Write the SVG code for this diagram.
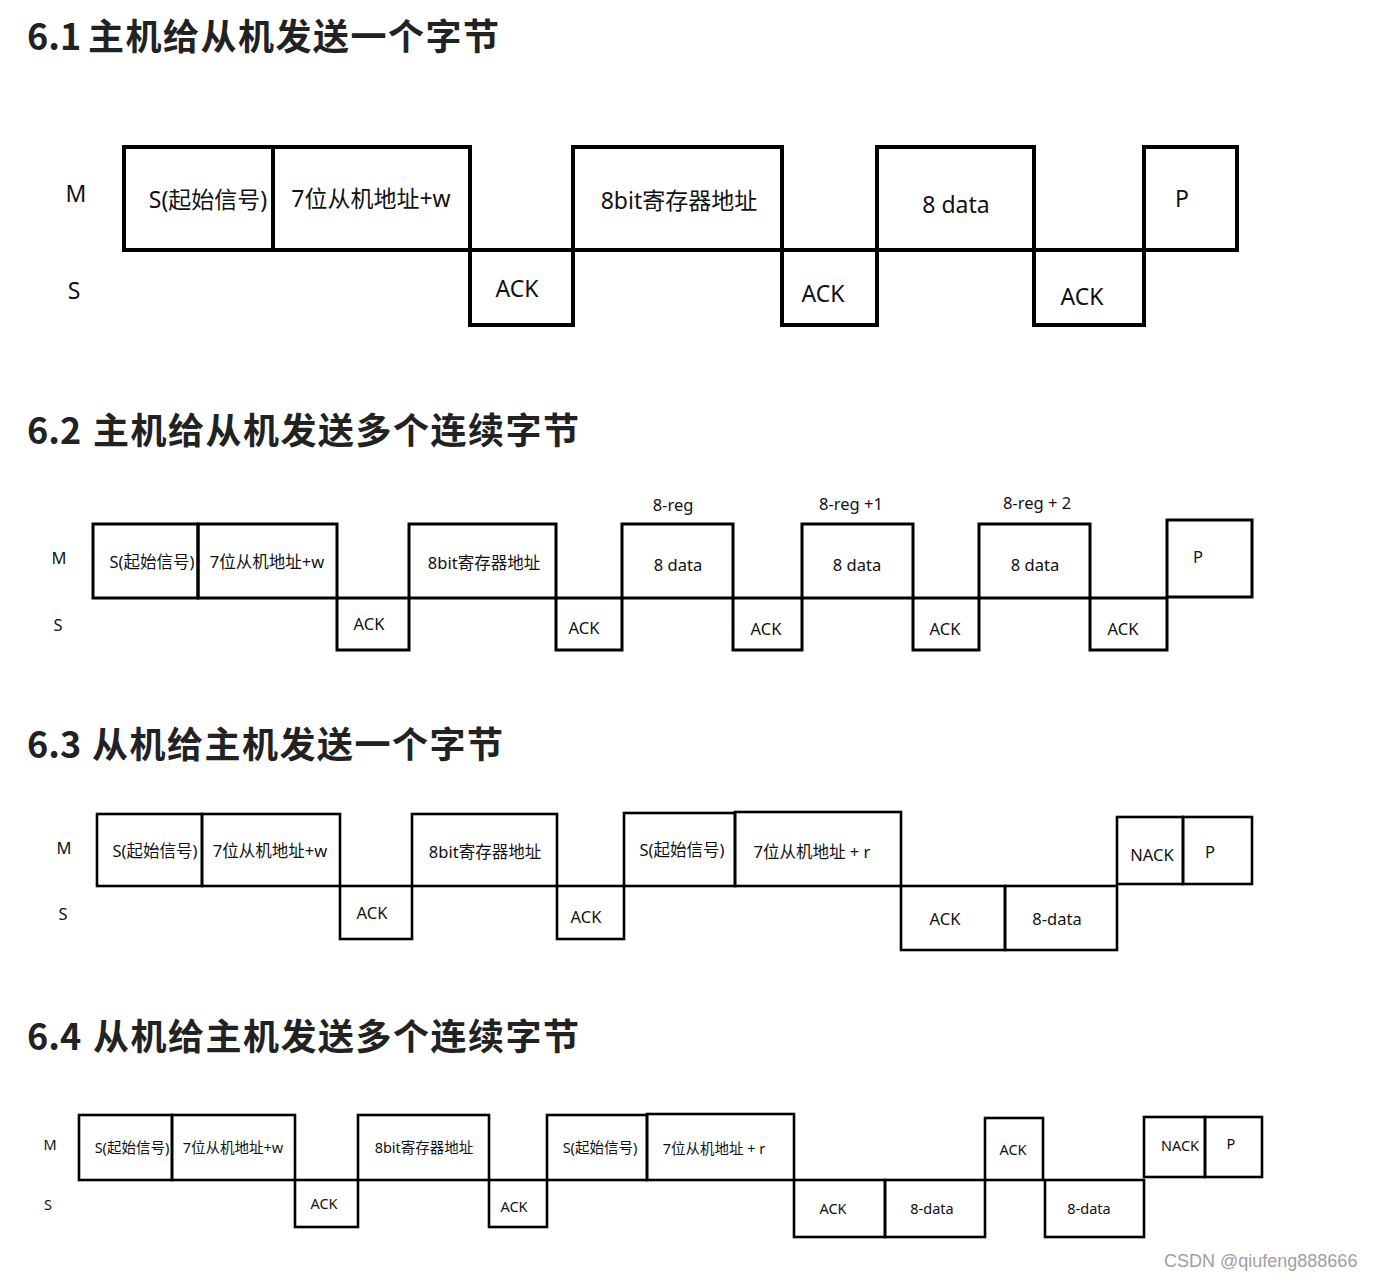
<svg xmlns="http://www.w3.org/2000/svg" width="1377" height="1280" viewBox="0 0 1377 1280">
<style>
.t{font-family:"Noto Sans CJK SC","Noto Sans",sans-serif;font-weight:700;font-size:36px;letter-spacing:1.5px;fill:#222}
.n{letter-spacing:0}
.l{font-family:"Noto Sans","Noto Sans CJK SC",sans-serif;fill:#111;text-anchor:middle;dominant-baseline:central}
.a{font-size:23px}.b{font-size:16.5px}.c{font-size:14.5px}
.r1 rect{fill:none;stroke:#000;stroke-width:4}
.r2 rect{fill:none;stroke:#000;stroke-width:3}
.r3 rect{fill:none;stroke:#000;stroke-width:2.6}
.wm{font-family:"Liberation Sans",Arial,sans-serif;font-size:18px;fill:#a0a0a0}
</style>
<rect width="1377" height="1280" fill="#fff"/>
<text class="t" x="27" y="50"><tspan class="n">6.1</tspan><tspan x="88">主机给从机发送一个字节</tspan></text>
<text class="t" x="27" y="444"><tspan class="n">6.2</tspan><tspan x="93">主机给从机发送多个连续字节</tspan></text>
<text class="t" x="27" y="758"><tspan class="n">6.3</tspan><tspan x="92">从机给主机发送一个字节</tspan></text>
<text class="t" x="27" y="1050"><tspan class="n">6.4</tspan><tspan x="93">从机给主机发送多个连续字节</tspan></text>

<g id="d61" class="r1">
<text class="l a" x="76" y="193">M</text><text class="l a" x="74" y="290">S</text>
<g id="d61-s"><rect x="124" y="147" width="149" height="103"/><text class="l a" x="208" y="199">S(起始信号)</text></g>
<g id="d61-addr"><rect x="273" y="147" width="197" height="103"/><text class="l a" x="371" y="198">7位从机地址+w</text></g>
<g id="d61-ack1"><rect x="470" y="250" width="103" height="75"/><text class="l a" x="517" y="288">ACK</text></g>
<g id="d61-reg"><rect x="573" y="147" width="209" height="103"/><text class="l a" x="679" y="200">8bit寄存器地址</text></g>
<g id="d61-ack2"><rect x="782" y="250" width="95" height="75"/><text class="l a" x="823" y="293">ACK</text></g>
<g id="d61-data"><rect x="877" y="147" width="157" height="103"/><text class="l a" x="956" y="204">8 data</text></g>
<g id="d61-ack3"><rect x="1034" y="250" width="110" height="75"/><text class="l a" x="1082" y="296">ACK</text></g>
<g id="d61-p"><rect x="1144" y="147" width="93" height="103"/><text class="l a" x="1182" y="198">P</text></g>
</g>

<g id="d62" class="r2">
<text class="l b" x="59" y="557">M</text><text class="l b" x="58" y="624">S</text>
<g id="d62-s"><rect x="93" y="524" width="105" height="74"/><text class="l b" x="152" y="561">S(起始信号)</text></g>
<g id="d62-addr"><rect x="198" y="524" width="139" height="74"/><text class="l b" x="267" y="561">7位从机地址+w</text></g>
<g id="d62-ack1"><rect x="337" y="598" width="72" height="52"/><text class="l b" x="369" y="623">ACK</text></g>
<g id="d62-reg"><rect x="409" y="524" width="147" height="74"/><text class="l b" x="484" y="562">8bit寄存器地址</text></g>
<g id="d62-ack2"><rect x="556" y="598" width="66" height="52"/><text class="l b" x="584" y="627">ACK</text></g>
<g id="d62-d1"><rect x="622" y="524" width="111" height="74"/><text class="l b" x="678" y="564">8 data</text><text class="l b" x="673" y="504">8-reg</text></g>
<g id="d62-ack3"><rect x="733" y="598" width="69" height="52"/><text class="l b" x="766" y="628">ACK</text></g>
<g id="d62-d2"><rect x="802" y="524" width="111" height="74"/><text class="l b" x="857" y="564">8 data</text><text class="l b" x="851" y="503">8-reg +1</text></g>
<g id="d62-ack4"><rect x="913" y="598" width="66" height="52"/><text class="l b" x="945" y="628">ACK</text></g>
<g id="d62-d3"><rect x="979" y="524" width="111" height="74"/><text class="l b" x="1035" y="564">8 data</text><text class="l b" x="1037" y="502">8-reg + 2</text></g>
<g id="d62-ack5"><rect x="1090" y="598" width="77" height="52"/><text class="l b" x="1123" y="628">ACK</text></g>
<g id="d62-p"><rect x="1167" y="520" width="85" height="77"/><text class="l b" x="1198" y="556">P</text></g>
</g>

<g id="d63" class="r3">
<text class="l b" x="64" y="847">M</text><text class="l b" x="63" y="913">S</text>
<g id="d63-s"><rect x="97" y="814" width="105" height="72"/><text class="l b" x="155" y="850">S(起始信号)</text></g>
<g id="d63-addr"><rect x="202" y="814" width="138" height="72"/><text class="l b" x="270" y="850">7位从机地址+w</text></g>
<g id="d63-ack1"><rect x="340" y="886" width="72" height="53"/><text class="l b" x="372" y="912">ACK</text></g>
<g id="d63-reg"><rect x="412" y="814" width="145" height="72"/><text class="l b" x="485" y="851">8bit寄存器地址</text></g>
<g id="d63-ack2"><rect x="557" y="886" width="67" height="53"/><text class="l b" x="586" y="916">ACK</text></g>
<g id="d63-s2"><rect x="624" y="813" width="111" height="73"/><text class="l b" x="682" y="849">S(起始信号)</text></g>
<g id="d63-addr2"><rect x="735" y="812" width="166" height="74"/><text class="l b" x="812" y="851">7位从机地址 + r</text></g>
<g id="d63-ack3"><rect x="901" y="886" width="104" height="64"/><text class="l b" x="945" y="918">ACK</text></g>
<g id="d63-data"><rect x="1005" y="886" width="112" height="64"/><text class="l b" x="1057" y="918">8-data</text></g>
<g id="d63-nack"><rect x="1117" y="817" width="66" height="67"/><text class="l b" x="1152" y="854">NACK</text></g>
<g id="d63-p"><rect x="1183" y="817" width="69" height="67"/><text class="l b" x="1210" y="851">P</text></g>
</g>

<g id="d64" class="r3">
<text class="l c" x="50" y="1144">M</text><text class="l c" x="48" y="1204">S</text>
<g id="d64-s"><rect x="79" y="1115" width="93" height="65"/><text class="l c" x="132" y="1147">S(起始信号)</text></g>
<g id="d64-addr"><rect x="172" y="1115" width="123" height="65"/><text class="l c" x="233" y="1147">7位从机地址+w</text></g>
<g id="d64-ack1"><rect x="295" y="1180" width="63" height="47"/><text class="l c" x="324" y="1203">ACK</text></g>
<g id="d64-reg"><rect x="358" y="1115" width="131" height="65"/><text class="l c" x="424" y="1147">8bit寄存器地址</text></g>
<g id="d64-ack2"><rect x="489" y="1180" width="58" height="47"/><text class="l c" x="514" y="1206">ACK</text></g>
<g id="d64-s2"><rect x="547" y="1115" width="100" height="65"/><text class="l c" x="600" y="1147">S(起始信号)</text></g>
<g id="d64-addr2"><rect x="647" y="1114" width="147" height="66"/><text class="l c" x="714" y="1148">7位从机地址 + r</text></g>
<g id="d64-ack3"><rect x="794" y="1180" width="91" height="57"/><text class="l c" x="833" y="1208">ACK</text></g>
<g id="d64-data1"><rect x="885" y="1180" width="100" height="57"/><text class="l c" x="932" y="1208">8-data</text></g>
<g id="d64-mack"><rect x="985" y="1118" width="58" height="62"/><text class="l c" x="1013" y="1149">ACK</text></g>
<g id="d64-data2"><rect x="1045" y="1180" width="99" height="57"/><text class="l c" x="1089" y="1208">8-data</text></g>
<g id="d64-nack"><rect x="1144" y="1117" width="61" height="60"/><text class="l c" x="1180" y="1145">NACK</text></g>
<g id="d64-p"><rect x="1205" y="1117" width="57" height="60"/><text class="l c" x="1231" y="1143">P</text></g>
</g>
<g id="connectors"/>
<text class="wm" x="1164" y="1267">CSDN @qiufeng888666</text>
</svg>
